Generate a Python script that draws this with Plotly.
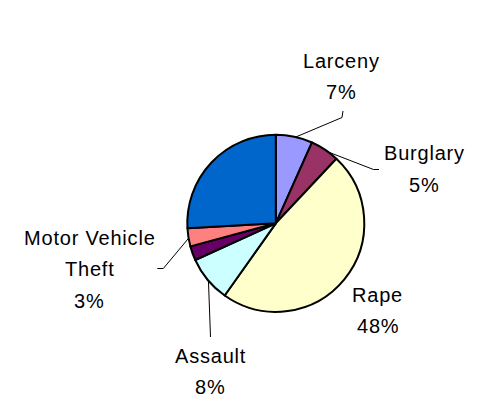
import math
import plotly.graph_objects as go

# ---------------- data ----------------
categories = ["Larceny", "Burglary", "Rape", "Assault", "Robbery",
              "Motor Vehicle Theft", "Other"]
counts = [67, 53, 478, 84, 26, 33, 259]
shown_labels = ["Larceny", "Burglary", "Rape", "Assault", "Motor Vehicle Theft"]
label_wrap = {"Motor Vehicle Theft": ["Motor Vehicle", "Theft"]}

# ---------------- styles / layout ----------------
colors = ["#9999FF", "#993366", "#FFFFCC", "#CCFFFF", "#660066", "#FF8080", "#0066CC"]
W, H = 483, 399
PIE_CX, PIE_CY, PIE_R = 275.8, 223.3, 88.5
FONT = "Liberation Sans, Arial, sans-serif"
FS = 20
SPACING = "0.8px"
LINE_GAP = 31.6

# label placement (pixel coords: centre x, baseline of first line) and leader path
label_layout = {
    "Larceny": dict(x=341.5, y=67.7, leader=[(342, 117.5), (343, 111)]),
    "Burglary": dict(x=424, y=160, leader=[(373.5, 169.5), (379, 169.5)]),
    "Rape": dict(x=377.5, y=301.7, leader=[]),
    "Assault": dict(x=210.5, y=362.7, leader=[(210.5, 337)]),
    "Motor Vehicle Theft": dict(x=89.5, y=244.5, leader=[(163.3, 268.5), (157.3, 268.5)]),
}

total = sum(counts)

fig = go.Figure()

fig.add_trace(go.Pie(
    labels=categories,
    values=counts,
    sort=False,
    direction="clockwise",
    rotation=0,
    textinfo="none",
    marker=dict(colors=colors, line=dict(color="black", width=2)),
    domain=dict(x=[(PIE_CX - PIE_R) / W, (PIE_CX + PIE_R) / W],
                y=[(H - PIE_CY - PIE_R) / H, (H - PIE_CY + PIE_R) / H]),
    showlegend=False,
    hoverinfo="label+percent",
))

annotations = []
cum = 0
for name, v in zip(categories, counts):
    start = cum
    cum += v
    if name not in shown_labels:
        continue
    mid = (start + v / 2) / total * 2 * math.pi
    ax = PIE_CX + (PIE_R - 1) * math.sin(mid)
    ay = PIE_CY - (PIE_R - 1) * math.cos(mid)
    lay = label_layout[name]
    if lay["leader"]:
        xs = [ax] + [p[0] for p in lay["leader"]]
        ys = [ay] + [p[1] for p in lay["leader"]]
        fig.add_trace(go.Scatter(x=xs, y=ys, mode="lines",
                                 line=dict(color="black", width=1),
                                 hoverinfo="skip", showlegend=False))
    lines = label_wrap.get(name, [name]) + [f"{round(100 * v / total)}%"]
    for i, t in enumerate(lines):
        base = lay["y"] + i * LINE_GAP
        annotations.append(dict(
            x=lay["x"], y=base - 0.35 * FS, xref="x", yref="y",
            text=f'<span style="letter-spacing:{SPACING}">{t}</span>',
            showarrow=False, xanchor="center", yanchor="middle",
            font=dict(family=FONT, size=FS, color="black"),
        ))

fig.update_layout(
    width=W, height=H,
    margin=dict(l=0, r=0, t=0, b=0),
    paper_bgcolor="white", plot_bgcolor="white",
    xaxis=dict(range=[0, W], visible=False, fixedrange=True, domain=[0, 1]),
    yaxis=dict(range=[H, 0], visible=False, fixedrange=True, domain=[0, 1]),
    annotations=annotations,
    font=dict(family=FONT, size=FS, color="black"),
)

fig.write_html(
    "out.html",
    config={"displayModeBar": False},
    post_script="document.body.style.margin='0';document.body.style.overflow='hidden';",
)
